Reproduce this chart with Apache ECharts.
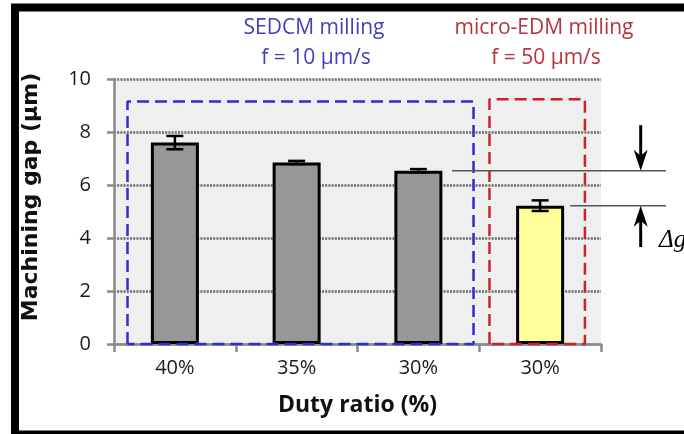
<!DOCTYPE html>
<html>
<head>
<meta charset="utf-8">
<script src="https://cdn.jsdelivr.net/npm/echarts@6/dist/echarts.min.js"></script>
<style>
html,body{margin:0;padding:0;background:#fff;}
#chart{width:684px;height:434px;}
</style>
</head>
<body>
<div id="chart"></div>
<script>
// ---- data ----
const categories = ['40%', '35%', '30%', '30%'];
const gapValues = [7.6, 6.85, 6.54, 5.22];
const gapErrors = [0.25, 0.06, 0.06, 0.2];
const process = ['SEDCM', 'SEDCM', 'SEDCM', 'micro-EDM'];
const yTickValues = [0, 2, 4, 6, 8, 10];
const groupTitles = [
  ['SEDCM milling', 'f = 10 μm/s'],
  ['micro-EDM milling', 'f = 50 μm/s']
];
const xAxisTitle = 'Duty ratio (%)';
const yAxisTitle = 'Machining gap (μm)';
const deltaLabel = 'Δg';

// ---- annotation geometry (in axis units; x: 0..4 across the categories) ----
const boxes = [
  {x0: 0.111, x1: 2.953, top: 9.15, color: '#2e2ed0'},
  {x0: 3.084, x1: 3.868, top: 9.24, color: '#c8232b'}
];
const refLineStart = [2.776, 3.745];
const refLineEnd = 4.534;
const arrowX = 4.326;
const arrowFrom = [8.26, 3.66];
const deltaPos = [4.476, 3.89];

const barColors = {'SEDCM': '#979797', 'micro-EDM': '#ffff99'};
const FONT = "'Open Sans', sans-serif";

const chart = echarts.init(document.getElementById('chart'), null, {renderer: 'canvas'});

const boxSeries = boxes.map(b => ({
  type: 'line',
  xAxisIndex: 1,
  yAxisIndex: 0,
  data: [[b.x0, 0], [b.x0, b.top], [b.x1, b.top], [b.x1, 0], [b.x0, 0]],
  symbol: 'none',
  silent: true,
  clip: false,
  z: 4,
  lineStyle: {color: b.color, width: 2.5, type: [12, 6]}
}));

const option = {
  animation: false,
  backgroundColor: '#ffffff',
  grid: {left: 114, right: 83, top: 79, bottom: 90, show: true,
         backgroundColor: '#efefef', borderWidth: 0},
  xAxis: [
    {
      type: 'category',
      data: categories,
      boundaryGap: true,
      axisLine: {lineStyle: {color: '#8a8a8a', width: 2.5}},
      axisTick: {show: true, length: 8, lineStyle: {color: '#8a8a8a', width: 2.5}},
      axisLabel: {color: '#1a1a1a', fontSize: 20, fontFamily: FONT, margin: 14},
      name: xAxisTitle,
      nameLocation: 'middle',
      nameGap: 50,
      nameTextStyle: {color: '#111', fontSize: 23, fontWeight: 'bold', fontFamily: FONT}
    },
    {type: 'value', min: 0, max: 4, show: false}
  ],
  yAxis: {
    type: 'value',
    min: yTickValues[0],
    max: yTickValues[yTickValues.length - 1],
    interval: yTickValues[1] - yTickValues[0],
    axisLine: {show: true, lineStyle: {color: '#8a8a8a', width: 2.5}},
    axisTick: {show: true, length: 7, lineStyle: {color: '#8a8a8a', width: 2.5}},
    axisLabel: {color: '#1a1a1a', fontSize: 20, fontFamily: FONT, margin: 23},
    splitLine: {show: true, lineStyle: {color: '#6a6a6a', width: 2.5, type: [2, 1.2]}}
  },
  series: [
    {
      type: 'bar',
      barWidth: 48,
      z: 3,
      data: gapValues.map((v, i) => ({
        value: v,
        itemStyle: {color: barColors[process[i]], borderColor: '#000', borderWidth: 3}
      }))
    },
    {
      type: 'custom',
      z: 5,
      silent: true,
      data: gapValues.map((v, i) => [i, v, gapErrors[i]]),
      renderItem: function (params, api) {
        const i = api.value(0), v = api.value(1), e = api.value(2);
        const hi = api.coord([i, v + e]);
        const lo = api.coord([i, v - e]);
        const w = 8.5;
        const st = {stroke: '#000', lineWidth: 2.5};
        return {
          type: 'group',
          children: [
            {type: 'line', shape: {x1: hi[0], y1: hi[1], x2: lo[0], y2: lo[1]}, style: st},
            {type: 'line', shape: {x1: hi[0] - w, y1: hi[1], x2: hi[0] + w, y2: hi[1]}, style: st},
            {type: 'line', shape: {x1: lo[0] - w, y1: lo[1], x2: lo[0] + w, y2: lo[1]}, style: st}
          ]
        };
      }
    }
  ].concat(boxSeries)
};

chart.setOption(option);

// ---- annotations placed through the chart's own coordinate system ----
function px(x, y) { return chart.convertToPixel({xAxisIndex: 1, yAxisIndex: 0}, [x, y]); }

function arrow(fromY, toY) {
  const a = px(arrowX, fromY);
  const b = px(arrowX, toY);
  const dir = b[1] > a[1] ? 1 : -1;
  const headLen = 21, half = 7, notch = 6;
  const tip = b[1];
  const base = tip - dir * headLen;
  return [
    {type: 'line', silent: true, z: 10,
     shape: {x1: a[0], y1: a[1], x2: a[0], y2: base + dir * notch},
     style: {stroke: '#000', lineWidth: 3}},
    {type: 'polygon', silent: true, z: 10,
     shape: {points: [[b[0], tip], [b[0] - half, base], [b[0], base + dir * notch], [b[0] + half, base]]},
     style: {fill: '#000'}}
  ];
}

function refLine(k) {
  const a = px(refLineStart[k], gapValues[2 + k]);
  const b = px(refLineEnd, gapValues[2 + k]);
  return {type: 'line', silent: true, z: 9,
          shape: {x1: a[0], y1: a[1], x2: b[0], y2: b[1]},
          style: {stroke: '#555', lineWidth: 1.5}};
}

const dpos = px(deltaPos[0], deltaPos[1]);
const graphics = [
  {type: 'rect', silent: true, z: 20,
   shape: {x: 15, y: 7.5, width: 720, height: 427},
   style: {fill: 'none', stroke: '#000', lineWidth: 8}},
  {type: 'text', silent: true, z: 10, x: 31, y: 197, rotation: Math.PI / 2,
   style: {text: yAxisTitle, fill: '#111', font: "bold 22px 'DejaVu Sans', sans-serif",
           align: 'center', verticalAlign: 'middle'}},
  {type: 'text', silent: true, z: 10, x: 314, y: 28,
   style: {text: groupTitles[0][0], fill: '#4141b8', font: "21px " + FONT, align: 'center', verticalAlign: 'middle'}},
  {type: 'text', silent: true, z: 10, x: 316, y: 58,
   style: {text: groupTitles[0][1], fill: '#4141b8', font: "21px " + FONT, align: 'center', verticalAlign: 'middle'}},
  {type: 'text', silent: true, z: 10, x: 544, y: 28,
   style: {text: groupTitles[1][0], fill: '#b8333c', font: "21px " + FONT, align: 'center', verticalAlign: 'middle'}},
  {type: 'text', silent: true, z: 10, x: 546, y: 58,
   style: {text: groupTitles[1][1], fill: '#b8333c', font: "21px " + FONT, align: 'center', verticalAlign: 'middle'}},
  {type: 'text', silent: true, z: 10, x: dpos[0], y: dpos[1],
   style: {text: deltaLabel, fill: '#000', font: "italic 25px 'Liberation Serif', serif",
           align: 'left', verticalAlign: 'middle'}},
  refLine(0), refLine(1)
].concat(arrow(arrowFrom[0], gapValues[2]), arrow(arrowFrom[1], gapValues[3]));

chart.setOption({graphic: graphics});
</script>
</body>
</html>
